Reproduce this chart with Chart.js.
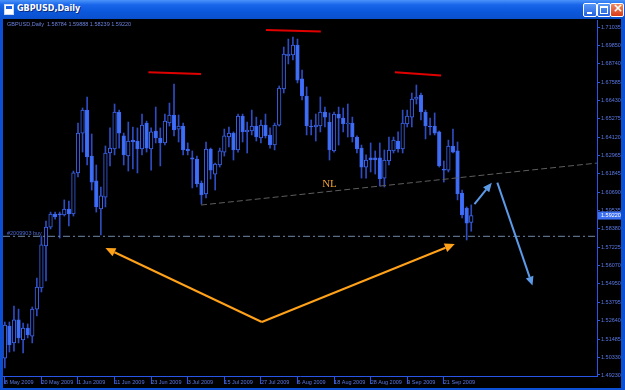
<!DOCTYPE html>
<html>
<head>
<meta charset="utf-8">
<script src="https://cdn.jsdelivr.net/npm/chart.js@4/dist/chart.umd.min.js"></script>
<style>
  body { margin: 0; background: #000; }
  #win { position: relative; width: 625px; height: 390px; overflow: hidden; background: #000; }
  #c { position: absolute; left: 0; top: 0; }
  .chrome { position: absolute; z-index: 2; }
  #bar { left: 0; top: 0; width: 625px; height: 19px;
         background: linear-gradient(#4a93fa 0%, #1a66ea 25%, #0b58dc 60%, #0a50cc 100%); }
  #bar span { position: absolute; left: 17px; top: 4px; font: bold 8px "DejaVu Sans"; color: #fff;
              text-shadow: 1px 1px 0 #0a2a80; }
  #icon { left: 4px; top: 4px; width: 8px; height: 9px; background: #fff; border: 1px solid #c8d8f8; }
  #icon::after { content: ""; position: absolute; left: 1px; top: 1px; width: 6px; height: 3px; background: #1a60e0; }
  .btn { top: 3px; width: 12px; height: 12px; border: 1px solid #fff; border-radius: 2px;
         background: linear-gradient(#5a98f8, #2462e0); }
  #bmin { left: 583px; }
  #bmax { left: 597px; }
  #bcls { left: 610px; background: linear-gradient(#f08a60, #d83c18); }
  #bmin::after { content: ""; position: absolute; left: 3px; top: 8px; width: 5px; height: 2px; background: #fff; }
  #bmax::after { content: ""; position: absolute; left: 2px; top: 2px; width: 6px; height: 5px; border: 1px solid #fff; border-top-width: 2px; }
  #bcls::after { content: "\00d7"; position: absolute; left: 2px; top: -3px; font: bold 12px "DejaVu Sans"; color: #fff; }
  #lb { left: 0; top: 19px; width: 3px; height: 371px; background: #0b4fd4; }
  #rb { left: 621px; top: 19px; width: 4px; height: 371px; background: #0b4fd4; }
  #bb { left: 0; top: 388px; width: 625px; height: 2px; background: #0b4fd4; }
</style>
</head>
<body>
<div id="win">
  <canvas id="c" width="625" height="390"></canvas>
  <div class="chrome" id="bar"><span>GBPUSD,Daily</span></div>
  <div class="chrome" id="icon"></div>
  <div class="chrome btn" id="bmin"></div>
  <div class="chrome btn" id="bmax"></div>
  <div class="chrome btn" id="bcls"></div>
  <div class="chrome" id="lb"></div>
  <div class="chrome" id="rb"></div>
  <div class="chrome" id="bb"></div>
</div>
<script>
// GBPUSD daily candles, 8 May 2009 .. 29 Sep 2009
const opens = [
  1.5029, 1.5230, 1.5124, 1.5268, 1.5142, 1.5217, 1.5167, 1.5336, 1.5468, 1.5731,
  1.5850, 1.5932, 1.5932, 1.5926, 1.5963, 1.5932, 1.6189, 1.6439, 1.6583, 1.6295,
  1.6139, 1.5963, 1.6038, 1.6314, 1.6339, 1.6571, 1.6421, 1.6295, 1.6395, 1.6389,
  1.6339, 1.6502, 1.6339, 1.6452, 1.6408, 1.6377, 1.6502, 1.6552, 1.6464, 1.6483,
  1.6339, 1.6283, 1.6276, 1.6126, 1.6057, 1.6339, 1.6182, 1.6239, 1.6320, 1.6414,
  1.6439, 1.6333, 1.6546, 1.6446, 1.6452, 1.6483, 1.6408, 1.6489, 1.6427, 1.6364,
  1.6489, 1.6715, 1.6922, 1.6928, 1.6991, 1.6778, 1.6671, 1.6483, 1.6477, 1.6483,
  1.6571, 1.6508, 1.6327, 1.6558, 1.6533, 1.6496, 1.6502, 1.6414, 1.6345, 1.6226,
  1.6283, 1.6283, 1.6283, 1.6157, 1.6264, 1.6327, 1.6389, 1.6339, 1.6496, 1.6539,
  1.6652, 1.6677, 1.6571, 1.6483, 1.6483, 1.6446, 1.6214, 1.6207, 1.6358, 1.6327,
  1.6063, 1.5969, 1.58784
];
const highs = [
  1.5255, 1.5255, 1.5355, 1.5336, 1.5249, 1.5243, 1.5349, 1.5531, 1.5794, 1.5888,
  1.5944, 1.5944, 1.5944, 1.6020, 1.6013, 1.6201, 1.6502, 1.6596, 1.6665, 1.6433,
  1.6239, 1.6101, 1.6358, 1.6471, 1.6621, 1.6583, 1.6439, 1.6508, 1.6477, 1.6471,
  1.6558, 1.6514, 1.6471, 1.6602, 1.6471, 1.6558, 1.6627, 1.6746, 1.6552, 1.6502,
  1.6377, 1.6327, 1.6295, 1.6139, 1.6383, 1.6345, 1.6251, 1.6345, 1.6464, 1.6477,
  1.6446, 1.6558, 1.6558, 1.6508, 1.6583, 1.6539, 1.6521, 1.6558, 1.6471, 1.6502,
  1.6734, 1.6978, 1.7028, 1.7041, 1.7028, 1.6834, 1.6728, 1.6521, 1.6558, 1.6665,
  1.6602, 1.6565, 1.6571, 1.6602, 1.6596, 1.6621, 1.6539, 1.6421, 1.6364, 1.6302,
  1.6377, 1.6327, 1.6377, 1.6333, 1.6414, 1.6414, 1.6446, 1.6583, 1.6583, 1.6690,
  1.6740, 1.6690, 1.6583, 1.6533, 1.6565, 1.6452, 1.6264, 1.6395, 1.6464, 1.6383,
  1.6082, 1.5976, 1.59888
];
const lows = [
  1.4967, 1.5067, 1.5073, 1.5124, 1.5061, 1.5155, 1.5124, 1.5293, 1.5443, 1.5512,
  1.5838, 1.5900, 1.5781, 1.5919, 1.5857, 1.5919, 1.6164, 1.6320, 1.6239, 1.6082,
  1.5944, 1.5800, 1.5976, 1.6233, 1.6302, 1.6345, 1.6239, 1.6201, 1.6214, 1.6189,
  1.6302, 1.6320, 1.6207, 1.6377, 1.6233, 1.6364, 1.6483, 1.6421, 1.6383, 1.6302,
  1.6302, 1.6095, 1.6101, 1.5994, 1.6032, 1.6151, 1.6082, 1.6226, 1.6295, 1.6352,
  1.6270, 1.6320, 1.6383, 1.6314, 1.6427, 1.6389, 1.6377, 1.6408, 1.6345, 1.6333,
  1.6483, 1.6690, 1.6872, 1.6897, 1.6753, 1.6646, 1.6427, 1.6427, 1.6389, 1.6446,
  1.6477, 1.6270, 1.6320, 1.6364, 1.6446, 1.6414, 1.6383, 1.6314, 1.6157, 1.6157,
  1.6195, 1.6182, 1.6107, 1.6101, 1.6239, 1.6314, 1.6320, 1.6314, 1.6477, 1.6477,
  1.6621, 1.6521, 1.6402, 1.6427, 1.6427, 1.6226, 1.6132, 1.6195, 1.6314, 1.6020,
  1.5907, 1.5769, 1.58239
];
const closes = [
  1.5236, 1.5111, 1.5268, 1.5155, 1.5217, 1.5174, 1.5336, 1.5474, 1.5738, 1.5850,
  1.5932, 1.5913, 1.5926, 1.5963, 1.5932, 1.6189, 1.6439, 1.6583, 1.6289, 1.6132,
  1.5976, 1.6045, 1.6314, 1.6345, 1.6571, 1.6439, 1.6302, 1.6389, 1.6383, 1.6339,
  1.6489, 1.6345, 1.6446, 1.6408, 1.6377, 1.6514, 1.6552, 1.6458, 1.6483, 1.6333,
  1.6327, 1.6276, 1.6120, 1.6051, 1.6339, 1.6207, 1.6245, 1.6327, 1.6421, 1.6439,
  1.6333, 1.6546, 1.6446, 1.6458, 1.6483, 1.6414, 1.6489, 1.6421, 1.6364, 1.6489,
  1.6721, 1.6934, 1.6934, 1.6991, 1.6771, 1.6671, 1.6483, 1.6477, 1.6489, 1.6571,
  1.6539, 1.6333, 1.6558, 1.6533, 1.6496, 1.6502, 1.6414, 1.6339, 1.6226, 1.6270,
  1.6270, 1.6270, 1.6151, 1.6270, 1.6333, 1.6395, 1.6339, 1.6502, 1.6546, 1.6652,
  1.6665, 1.6571, 1.6483, 1.6477, 1.6439, 1.6233, 1.6207, 1.6358, 1.6320, 1.6057,
  1.5926, 1.5875, 1.59220
];

// axis labels (one date label every 8 bars)
const dateLabels = ['8 May 2009', '20 May 2009', '1 Jun 2009', '11 Jun 2009', '23 Jun 2009', '3 Jul 2009',
  '15 Jul 2009', '27 Jul 2009', '6 Aug 2009', '18 Aug 2009', '28 Aug 2009', '9 Sep 2009', '21 Sep 2009'];
const labelStep = 8;
const priceTicks = [1.71035, 1.69850, 1.68740, 1.67585, 1.66430, 1.65275, 1.64120, 1.62965, 1.61845, 1.60690,
  1.59535, 1.58380, 1.57225, 1.56070, 1.54950, 1.53795, 1.52640, 1.51485, 1.50330, 1.49230];

// drawn objects, in [bar index, price]
const redLines = [[31.4, 1.6820, 42.9, 1.6809], [57.1, 1.7085, 69.1, 1.7075], [85.3, 1.6820, 95.4, 1.6799]];
const neckline = [42.9, 1.5988, 129.5, 1.6251];
const buyLevel = 1.5792;
const orangeArrows = [[56.2, 1.5255, 22.0, 1.5719], [56.2, 1.5255, 98.4, 1.5744]];
const blueArrows = [[102.7, 1.5994, 106.5, 1.6128], [107.7, 1.6128, 115.4, 1.5483]];
const nlLabel = [69.4, 1.6117];

const axisColor = '#2a56e8';
const textColor = '#5a78e4';
const bull = '#000000', bear = '#3d6ff8', outline = '#3d66ee', wick = '#2e4cc0';

const bodies = {
  data: opens.map((o, i) => ({ x: i, y: [o, closes[i]] })),
  backgroundColor: opens.map((o, i) => closes[i] >= o ? bull : bear),
  borderColor: outline,
  borderWidth: 1,
  borderSkipped: false,
  barThickness: 3.6,
  minBarLength: 1,
  grouped: false
};
const wicks = {
  data: lows.map((l, i) => ({ x: i, y: [l, highs[i]] })),
  backgroundColor: wick,
  barThickness: 1,
  grouped: false
};

function arrow(ctx, x1, y1, x2, y2, color, head, half) {
  const a = Math.atan2(y2 - y1, x2 - x1);
  const bx = x2 - head * Math.cos(a), by = y2 - head * Math.sin(a);
  ctx.strokeStyle = color;
  ctx.fillStyle = color;
  ctx.beginPath();
  ctx.moveTo(x1, y1);
  ctx.lineTo(bx, by);
  ctx.stroke();
  ctx.beginPath();
  ctx.moveTo(x2, y2);
  ctx.lineTo(bx + half * Math.sin(a), by - half * Math.cos(a));
  ctx.lineTo(bx - half * Math.sin(a), by + half * Math.cos(a));
  ctx.closePath();
  ctx.fill();
}

const overlay = {
  id: 'overlay',
  afterDatasetsDraw(chart) {
    const { ctx, chartArea: a, scales: { x, y } } = chart;
    const px = v => x.getPixelForValue(v), py = v => y.getPixelForValue(v);
    ctx.save();
    ctx.beginPath();
    ctx.rect(a.left, a.top, a.right - a.left, a.bottom - a.top);
    ctx.clip();

    // neck line
    ctx.lineWidth = 1;
    ctx.strokeStyle = '#5e5e5e';
    ctx.setLineDash([6, 3]);
    ctx.beginPath();
    ctx.moveTo(px(neckline[0]), py(neckline[1]));
    ctx.lineTo(px(neckline[2]), py(neckline[3]));
    ctx.stroke();

    // order line
    ctx.strokeStyle = '#7088aa';
    ctx.setLineDash([7, 3, 2, 3]);
    ctx.beginPath();
    ctx.moveTo(a.left, py(buyLevel));
    ctx.lineTo(a.right, py(buyLevel));
    ctx.stroke();
    ctx.setLineDash([]);

    // shoulders / head
    ctx.lineWidth = 2;
    ctx.strokeStyle = '#e00000';
    redLines.forEach(l => {
      ctx.beginPath();
      ctx.moveTo(px(l[0]), py(l[1]));
      ctx.lineTo(px(l[2]), py(l[3]));
      ctx.stroke();
    });

    orangeArrows.forEach(l => arrow(ctx, px(l[0]), py(l[1]), px(l[2]), py(l[3]), '#ffa21a', 10, 4.5));
    blueArrows.forEach(l => arrow(ctx, px(l[0]), py(l[1]), px(l[2]), py(l[3]), '#5c9ae8', 9, 4));

    ctx.textBaseline = 'middle';
    ctx.textAlign = 'left';
    ctx.font = '11px "Liberation Serif"';
    ctx.fillStyle = '#eea030';
    ctx.fillText('NL', px(nlLabel[0]), py(nlLabel[1]));

    ctx.font = '5.5px "Liberation Sans"';
    ctx.fillStyle = '#4c68d0';
    ctx.fillText('#2009903 buy', a.left + 4, py(buyLevel) - 3);
    ctx.fillStyle = '#6a82dc';
    ctx.fillText('GBPUSD,Daily  1.58784 1.59888 1.58239 1.59220', a.left + 4, a.top + 4);
    ctx.restore();

    // current price box
    const last = closes[closes.length - 1];
    const yl = py(last);
    ctx.save();
    ctx.fillStyle = '#3c6ef2';
    ctx.fillRect(a.right + 1, yl - 4, 23, 8);
    ctx.fillStyle = '#ffffff';
    ctx.font = '5.5px "Liberation Sans"';
    ctx.textBaseline = 'middle';
    ctx.fillText(last.toFixed(5), a.right + 4, yl);
    ctx.restore();
  }
};

const ctx = document.getElementById('c').getContext('2d');
new Chart(ctx, {
  type: 'bar',
  data: { datasets: [bodies, wicks] },
  options: {
    responsive: false,
    animation: false,
    devicePixelRatio: 1,
    layout: { padding: { left: 3, top: 20, right: 4, bottom: 3 } },
    plugins: { legend: { display: false }, tooltip: { enabled: false } },
    scales: {
      x: {
        type: 'linear',
        offset: false,
        bounds: 'data',
        min: -0.4,
        max: 129.5,
        afterBuildTicks: s => { s.ticks = dateLabels.map((d, i) => ({ value: i * labelStep })); },
        afterFit: s => { s.height = 11; },
        ticks: {
          callback: v => dateLabels[Math.round(v / labelStep)],
          color: textColor,
          font: { family: 'Liberation Sans', size: 5.5 },
          align: 'start',
          padding: -5,
          maxRotation: 0,
          autoSkip: false
        },
        grid: { drawOnChartArea: false, tickLength: 8, color: axisColor, offset: false },
        border: { color: axisColor }
      },
      y: {
        position: 'right',
        bounds: 'data',
        min: 1.49167,
        max: 1.71474,
        afterBuildTicks: s => { s.ticks = priceTicks.map(v => ({ value: v })); },
        afterFit: s => { s.width = 24; },
        ticks: {
          callback: v => v.toFixed(5),
          color: textColor,
          font: { family: 'Liberation Sans', size: 5.5 },
          padding: 1,
          autoSkip: false
        },
        grid: { drawOnChartArea: false, tickLength: 3, color: axisColor },
        border: { color: axisColor }
      }
    }
  },
  plugins: [overlay]
});
</script>
</body>
</html>
